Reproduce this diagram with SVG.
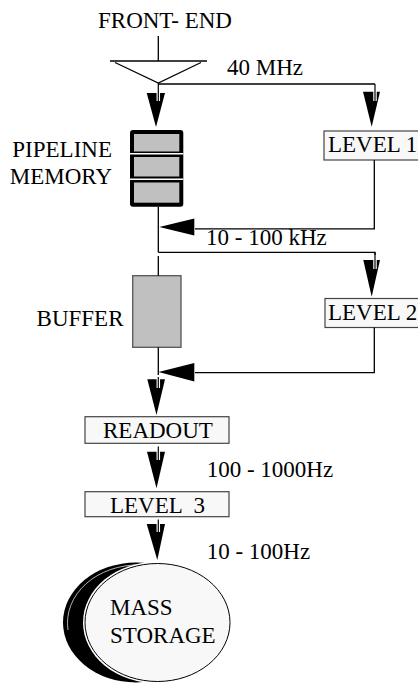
<svg xmlns="http://www.w3.org/2000/svg" width="418" height="683" viewBox="0 0 418 683">
<style>
text{font-family:"Liberation Serif","Times New Roman",serif;font-size:23px;fill:#000}
.ln{stroke:#000;stroke-width:1.3;fill:none}
.halo{stroke:#fff;stroke-width:3.5;fill:none}
.stem{stroke:#000;stroke-width:1.2;fill:none}
.ah{fill:#000}
.box{fill:#f8f8f8;stroke:#444;stroke-width:1.2}
</style>
<rect width="418" height="683" fill="#fff"/>
<g id="front-end">
<text x="98" y="28">FRONT- END</text>
<line class="ln" x1="158.3" y1="36" x2="158.3" y2="61"/>
<line class="ln" x1="110" y1="61" x2="207" y2="61"/>
<polyline class="ln" points="115,62.5 158.3,83 201,62.5"/>
</g>
<g id="pipeline">
<text x="112" y="156.7" text-anchor="end">PIPELINE</text>
<text x="112" y="184" text-anchor="end">MEMORY</text>
<rect x="130" y="130" width="53.3" height="76.7" rx="3" fill="#000"/>
<rect x="134" y="134" width="45.3" height="17.5" fill="#c0c0c0"/>
<rect x="134" y="157" width="45.3" height="19.5" fill="#c0c0c0"/>
<rect x="134" y="182.5" width="45.3" height="20.2" fill="#c0c0c0"/>
<line x1="130" y1="153.8" x2="183.3" y2="153.8" stroke="#fff" stroke-width="1.6"/>
<line x1="130" y1="179.3" x2="183.3" y2="179.3" stroke="#fff" stroke-width="1.6"/>
</g>
<g id="level1">
<rect class="box" x="324" y="131" width="100" height="29"/>
<text x="328" y="151.7">LEVEL 1</text>
</g>
<g id="buffer">
<text x="123.5" y="325.7" text-anchor="end">BUFFER</text>
<rect x="132.7" y="275.7" width="48.3" height="71.6" fill="#c0c0c0" stroke="#555" stroke-width="1.3"/>
</g>
<g id="level2">
<rect class="box" x="325" y="298.5" width="100" height="29"/>
<text x="328" y="320">LEVEL 2</text>
</g>
<g id="readout">
<rect class="box" x="85" y="416.7" width="144" height="26.6"/>
<text x="103" y="438.3">READOUT</text>
</g>
<g id="level3">
<rect class="box" x="85" y="491.7" width="144" height="25"/>
<text x="110" y="512.7" xml:space="preserve" style="white-space:pre">LEVEL  3</text>
</g>
<g id="mass-storage">
<ellipse cx="136" cy="622.5" rx="73" ry="60" fill="#000"/>
<path d="M68,630 A70.5,58 0 0 1 140,565" fill="none" stroke="#fff" stroke-width="0.7"/>
<ellipse cx="157.5" cy="622.5" rx="74.5" ry="61" fill="#fff"/>
<ellipse cx="157.5" cy="622.5" rx="72.5" ry="59" fill="#f8f8f8" stroke="#000" stroke-width="1"/>
<text x="110" y="615">MASS</text>
<text x="110" y="643.3">STORAGE</text>
</g>
<g id="connectors">
<polygon class="ah" points="146.7,93 165,93 156,127"/>
<line class="halo" x1="158.3" y1="86" x2="158.3" y2="101"/>
<line class="stem" x1="158.3" y1="83" x2="158.3" y2="101"/>
<line class="ln" x1="158.3" y1="84" x2="375" y2="84"/>
<polygon class="ah" points="363,91.7 380,91.7 371.7,126.7"/>
<line class="halo" x1="375" y1="86" x2="375" y2="101"/>
<line class="stem" x1="375" y1="84" x2="375" y2="101"/>
<text x="227" y="75">40 MHz</text>
<line class="ln" x1="158.3" y1="206.7" x2="158.3" y2="252.3"/>
<line class="ln" x1="158.3" y1="256" x2="158.3" y2="275.7"/>
<polyline class="ln" points="374.3,160 374.3,228.8 195,228.8"/>
<polygon class="ah" points="159.3,227 194.3,218.5 194.3,235.5"/>
<text x="206" y="245">10 - 100 kHz</text>
<polyline class="ln" points="158.3,252.3 375,252.3 375,262"/>
<polygon class="ah" points="363.3,260 380,260 371.7,296.7"/>
<line class="halo" x1="375" y1="255" x2="375" y2="269"/>
<line class="stem" x1="375" y1="252.3" x2="375" y2="269"/>
<polyline class="ln" points="374.3,327.5 374.3,372.7 195,372.7"/>
<polygon class="ah" points="158.5,372 194.3,363 194.3,381.5"/>
<line class="ln" x1="158.3" y1="347.3" x2="158.3" y2="375"/>
<polygon class="ah" points="147.3,379.3 165,379.3 156.5,415"/>
<line class="halo" x1="158.3" y1="377" x2="158.3" y2="388"/>
<line class="stem" x1="158.3" y1="377" x2="158.3" y2="388"/>
<polygon class="ah" points="147,451.7 165,451.7 156.5,488.3"/>
<line class="halo" x1="158.3" y1="446.5" x2="158.3" y2="460"/>
<line class="stem" x1="158.3" y1="446.5" x2="158.3" y2="460"/>
<text x="206.7" y="476.7">100 - 1000Hz</text>
<polygon class="ah" points="146.7,524 165,524 157.3,560"/>
<line class="halo" x1="158.3" y1="519.5" x2="158.3" y2="532"/>
<line class="stem" x1="158.3" y1="519.5" x2="158.3" y2="532"/>
<text x="206.7" y="559.3">10 - 100Hz</text>
</g>
</svg>
